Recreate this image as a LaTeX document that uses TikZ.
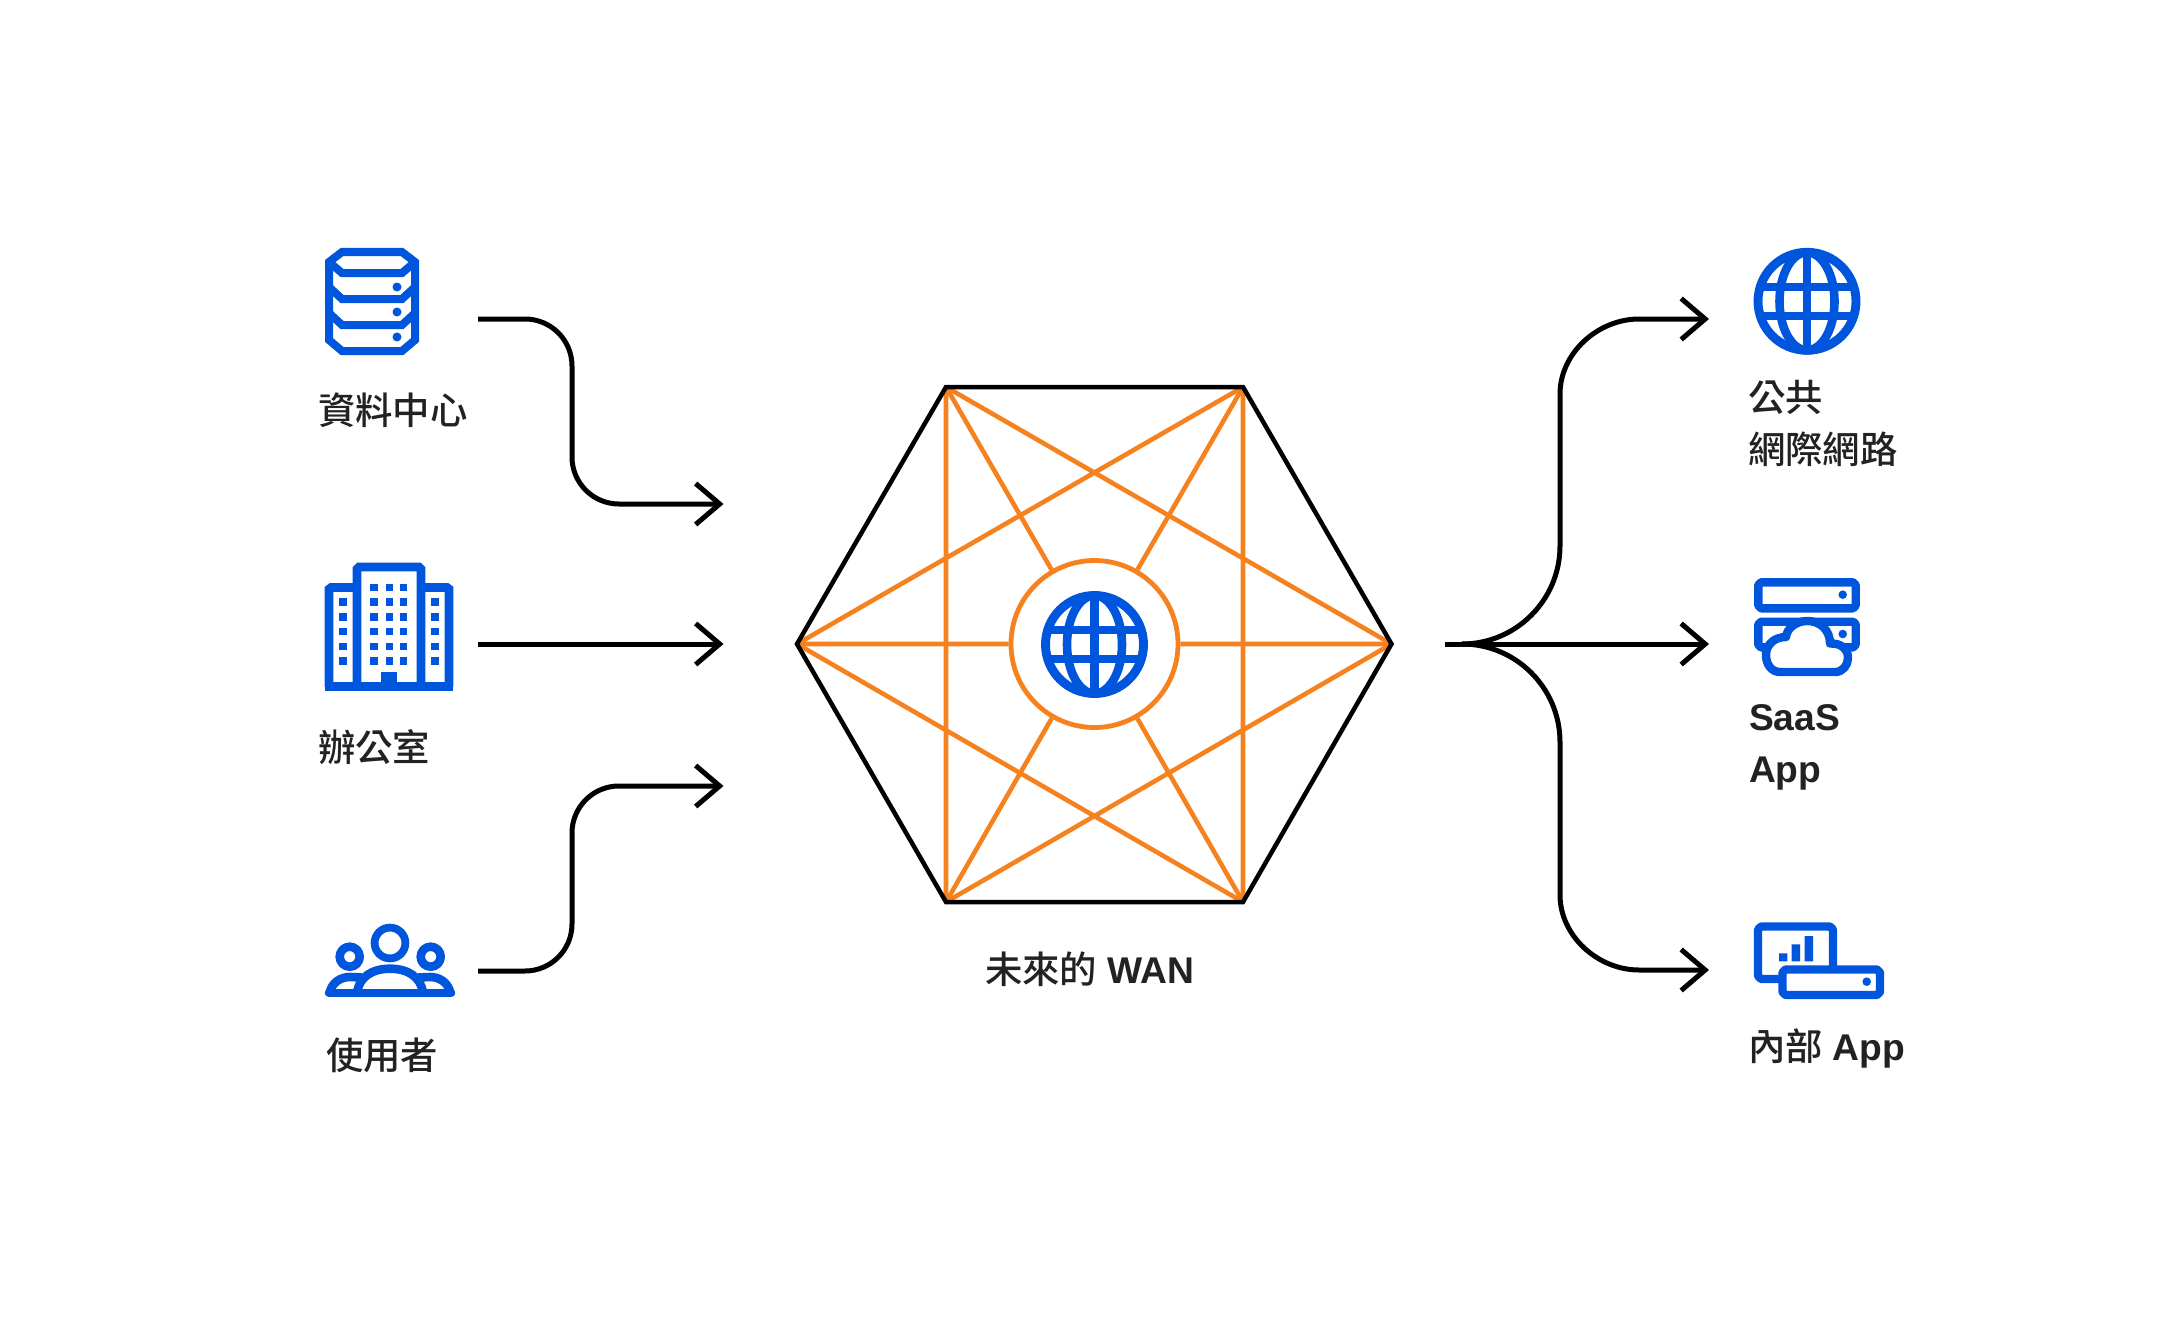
\documentclass[tikz,border=0pt]{standalone}
\usepackage{fontspec}
\usetikzlibrary{arrows.meta}
\newfontfamily\cjk{Noto Sans CJK TC Medium}
\newfontfamily\lat{Liberation Sans Bold}
\definecolor{cfblue}{RGB}{0,85,221}
\definecolor{cforange}{RGB}{246,130,31}
\definecolor{txt}{RGB}{34,34,34}
\tikzset{
  x=1pt,y=-1pt,
  wire/.style={line width=5pt,black,-{Straight Barb[length=24pt,width=41pt,line width=5pt]}},
  hex/.style={line width=4.5pt,black,line join=miter},
  spoke/.style={line width=4.6pt,cforange},
  ico/.style={line width=8.6pt,cfblue,line join=round},
  label/.style={inner sep=0pt,outer sep=0pt,text=txt,font=\fontsize{37.4}{37.4}\selectfont,anchor=base west},
}
\newcommand{\latbig}{\fontsize{37.2}{37.2}\selectfont\lat}
\newcommand{\globeicon}[2]{%
  \begin{scope}[shift={(#1,#2)}]
    \draw[cfblue,line width=8.9pt] (0,0) circle[radius=49];
    \draw[cfblue,line width=8.6pt] (0,0) ellipse[x radius=27.5,y radius=49];
    \draw[cfblue,line width=8.4pt] (0,-49) -- (0,49);
    \draw[cfblue,line width=8.6pt] (-46.8,-14.5) -- (46.8,-14.5) (-46.8,14.5) -- (46.8,14.5);
  \end{scope}}
\begin{document}
\begin{tikzpicture}
\useasboundingbox (0,0) rectangle (2166,1343);
% hexagon vertices
\coordinate (hA) at (797,644);
\coordinate (hB) at (946,387);
\coordinate (hC) at (1243,387);
\coordinate (hD) at (1391.5,644);
\coordinate (hE) at (1243,902);
\coordinate (hF) at (946,902);
\coordinate (hub) at (1094.5,644);
% orange mesh
\draw[spoke] (hA) -- (hC) (hA) -- (hE) (hD) -- (hB) (hD) -- (hF) (hB) -- (hF) (hC) -- (hE);
\node[circle,draw=cforange,line width=4.8pt,fill=white,minimum size=167pt,inner sep=0pt] (core) at (hub) {};
\draw[spoke] (hA) -- (core) (hB) -- (core) (hC) -- (core) (hD) -- (core) (hE) -- (core) (hF) -- (core);
\draw[hex] (hA) -- (hB) -- (hC) -- (hD) -- (hE) -- (hF) -- cycle;
\globeicon{1094.5}{644.5}

% left connectors
\coordinate (s1) at (478,319); \coordinate (b1a) at (572,319); \coordinate (b1b) at (572,504); \coordinate (t1) at (723.5,504);
\coordinate (s2) at (478,644); \coordinate (t2) at (723.5,644);
\coordinate (s3) at (478,971); \coordinate (b3a) at (572,971); \coordinate (b3b) at (572,786); \coordinate (t3) at (723.5,786);
\draw[wire,rounded corners=47pt] (s1) -- (b1a) -- (b1b) -- (t1);
\draw[wire] (s2) -- (t2);
\draw[wire,rounded corners=47pt] (s3) -- (b3a) -- (b3b) -- (t3);

% right connectors
\coordinate (f0) at (1445,644); \coordinate (f1) at (1462,644);
\coordinate (t4) at (1709,319); \coordinate (t5) at (1709,644); \coordinate (t6) at (1709,970);
\draw[wire] (f0) -- (t5);
\draw[wire] (f1) .. controls (1516,644) and (1560,600) .. (1560,546) -- (1560,394)
   .. controls (1560,353) and (1598,319) .. (1639,319) -- (t4);
\draw[wire] (f1) .. controls (1516,644) and (1560,688) .. (1560,742) -- (1560,895)
   .. controls (1560,936) and (1598,970) .. (1639,970) -- (t6);

% data centre icon
\draw[ico,line width=8pt,line join=miter] (329,262) -- (342,252) -- (402,252) -- (415,262) -- (415,340) -- (402,351) -- (342,351) -- (329,340) -- cycle;
\draw[ico,line width=8pt,line join=miter]
  (329,262) -- (342,273) -- (402,273) -- (415,262)
  (329,287) -- (342,299) -- (402,299) -- (415,287)
  (329,313) -- (342,325) -- (402,325) -- (415,313);
\fill[cfblue] (397,287) circle[radius=4.5] (397,312) circle[radius=4.5] (397,337) circle[radius=4.5];

% office icon
\draw[ico,line join=miter] (329,686.5) -- (329,589) -- (331,587.5) -- (357,587.5) (449,686.5) -- (449,589) -- (447,587.5) -- (421,587.5);
\draw[ico,line join=miter] (357,686.5) -- (357,569) -- (359,567) -- (419,567) -- (421,569) -- (421,686.5);
\draw[ico,line width=9pt] (325,686.5) -- (453,686.5);
\fill[cfblue] (381,672) rectangle (397,684);
\foreach \yy in {602,616.7,631.3,646.3,661}{
  \fill[cfblue] (339.2,\yy-3.8) rectangle +(7.6,7.6);
  \fill[cfblue] (431.2,\yy-3.8) rectangle +(7.6,7.6);
}
\foreach \yy in {587.3,602,616.7,631.3,646.3,661}{
  \foreach \xx in {374,389.3,403.7}{
    \fill[cfblue] (\xx-3.7,\yy-3.8) rectangle +(7.4,7.6);
  }
}

% users icon
\draw[ico,line width=7.8pt] (390,943) circle[radius=15.4];
\draw[ico] (349.7,956.7) circle[radius=10];
\draw[ico] (430.7,956.7) circle[radius=10];
\draw[ico] (329.5,993) .. controls (332,982) and (341,977) .. (350,977) -- (362,977.5);
\draw[ico] (450.5,993) .. controls (448,982) and (439,977) .. (430,977) -- (418,977.5);
\draw[ico] (357,993) .. controls (359,977) and (372,968.7) .. (390,968.7) .. controls (408,968.7) and (421,977) .. (423,993);
\draw[ico,line cap=round] (329,993) -- (451,993);

% globe top right
\globeicon{1807}{301.3}

% SaaS icon
\draw[ico,line width=8.4pt] (1761,582.3) -- (1853,582.3) -- (1855.7,585) -- (1855.7,605.6) -- (1853,608.3) -- (1761,608.3) -- (1758.3,605.6) -- (1758.3,585) -- cycle;
\fill[cfblue] (1842.7,594.7) circle[radius=4.3];
\draw[ico,line width=8.4pt] (1761,621.7) -- (1853,621.7) -- (1855.7,624.4) -- (1855.7,644.7) -- (1853,647.4) -- (1761,647.4) -- (1758.3,644.7) -- (1758.3,624.4) -- cycle;
\fill[cfblue] (1842.7,634) circle[radius=4.3];
\draw[ico,line width=8.4pt,fill=white]
  (1780,672) -- (1835,672)
  .. controls (1843,672) and (1848,665) .. (1848,658)
  .. controls (1848,649) and (1841,643) .. (1830,643.5)
  .. controls (1830,630) and (1820,621) .. (1807.5,621)
  .. controls (1796,621) and (1787,628) .. (1786,637)
  .. controls (1775,637) and (1766,644) .. (1766,655)
  .. controls (1766,665) and (1772,672) .. (1780,672) -- cycle;

% internal app icon
\draw[ico,line width=8.2pt] (1761,926.5) -- (1830,926.5) -- (1833,929.5) -- (1833,976) -- (1830,979) -- (1761,979) -- (1758,976) -- (1758,929.5) -- cycle;
\fill[cfblue] (1779,953.3) rectangle (1787.3,961.3) (1791.7,944.3) rectangle (1800,961.3) (1804.7,936) rectangle (1813,961.3);
\draw[ico,line width=8.4pt,fill=white] (1785.5,969.5) -- (1877,969.5) -- (1880,972.5) -- (1880,992) -- (1877,995) -- (1785.5,995) -- (1782.5,992) -- (1782.5,972.5) -- cycle;
\fill[cfblue] (1866.7,981.7) circle[radius=4.3];

% labels
\node[label] (ldc) at (318,424) {\cjk 資料中心};
\node[label] (lof) at (318,761) {\cjk 辦公室};
\node[label] (lus) at (326,1069) {\cjk 使用者};
\node[label] (lwan) at (985,983) {\cjk 未來的\hspace{10pt}{\latbig WAN}};
\node[label] (lpub1) at (1748,411) {\cjk 公共};
\node[label] (lpub2) at (1748,463) {\cjk 網際網路};
\node[label] (lsa1) at (1749,730) {\latbig SaaS};
\node[label] (lsa2) at (1749,782) {\latbig App};
\node[label] (lint) at (1748,1060) {\cjk 內部\hspace{10pt}{\latbig App}};
\end{tikzpicture}
\end{document}
